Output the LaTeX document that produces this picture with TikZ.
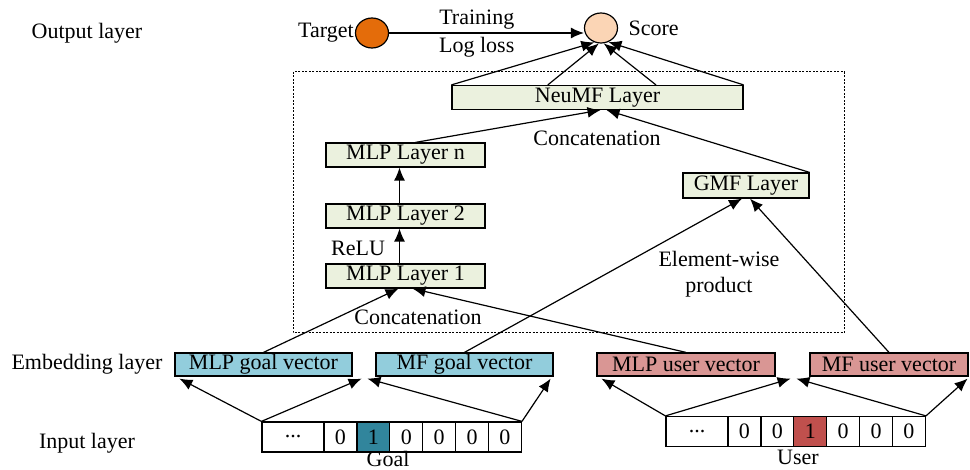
\documentclass[tikz,border=0pt]{standalone}
\usepackage{fontspec}
\setmainfont{Liberation Serif}
\usepackage{xcolor}
\usetikzlibrary{arrows.meta,calc,shapes.geometric}
\definecolor{layergreen}{HTML}{EBF1DE}
\definecolor{goalblue}{HTML}{92CDDC}
\definecolor{userred}{HTML}{D99694}
\definecolor{goalhot}{HTML}{31859C}
\definecolor{userhot}{HTML}{C0504D}
\definecolor{targetorange}{HTML}{E46C0A}
\definecolor{scorepeach}{HTML}{FBD5B5}

\begin{document}
\begin{tikzpicture}[x=1pt,y=-1pt,
  font=\fontsize{22}{26}\selectfont,
  conn/.style={-{Latex[length=13pt,width=11pt]},line width=1.2pt},
  layer/.style={draw,line width=1.2pt,fill=layergreen,inner sep=0pt,minimum height=24pt},
  goalvec/.style={draw,line width=1.2pt,fill=goalblue,inner sep=0pt,minimum height=23pt,minimum width=177pt},
  uservec/.style={draw,line width=1.2pt,fill=userred,inner sep=0pt,minimum height=23pt},
  cell/.style={draw,line width=1.2pt,fill=white,inner sep=0pt,minimum width=32.9pt,minimum height=30pt},
  ball/.style={draw,ellipse,line width=1.2pt,inner sep=0pt,minimum width=33pt,minimum height=30pt}]
\useasboundingbox (0,0) rectangle (970,470);

\draw[line width=1pt,dash pattern=on 2pt off 1.5pt] (293,72) rectangle (844,333);

\node (outlbl) at (87,33) {Output layer};
\node (emblbl) at (87,364) {Embedding layer};
\node (inlbl) at (87,443) {Input layer};

\node[ball,fill=targetorange] (target) at (372,33) {};
\node[ball,fill=scorepeach] (score) at (601,28) {};
\node[anchor=east,inner sep=1pt] (targetlbl) at (target.west) {Target};
\node[anchor=west] (scorelbl) at ($(score.east)+(7,0)$) {Score};
\draw[conn] (target.east) -- node[pos=0.45,above] {Training} node[pos=0.45,below] {Log loss} (target.east -| score.west);

\node[layer,minimum width=291pt] (neumf) at (597.5,97.5) {NeuMF Layer};
\node[layer,minimum width=159pt] (mlpn) at (405.5,155) {MLP Layer n};
\node[layer,minimum width=159pt] (mlp2) at (405.5,216) {MLP Layer 2};
\node[layer,minimum width=159pt] (mlp1) at (405.5,276) {MLP Layer 1};
\node[layer,minimum width=126pt,minimum height=25pt] (gmf) at (746,185.5) {GMF Layer};

\node[goalvec] (mlpgoal) at (263.5,364.5) {MLP goal vector};
\node[goalvec] (mfgoal) at (464.5,364.5) {MF goal vector};
\node[uservec,minimum width=178pt] (mlpuser) at (686,364.5) {MLP user vector};
\node[uservec,minimum width=158pt] (mfuser) at (889,364.5) {MF user vector};

\node[cell,minimum width=62pt] (g0) at (293,437) {...};
\foreach \v/\c [count=\i] in {0/white,1/goalhot,0/white,0/white,0/white,0/white}
  \node[cell,fill=\c] (g\i) at ({307.55+32.9*\i},437) {\v};
\node[cell,minimum width=62pt] (u0) at (697,431.5) {...};
\foreach \v/\c [count=\i] in {0/white,0/white,1/userhot,0/white,0/white,0/white}
  \node[cell,fill=\c] (u\i) at ({711.55+32.9*\i},431.5) {\v};
\node[inner sep=0pt] (goallbl) at (388,459) {Goal};
\node[inner sep=0pt] (userlbl) at (798,457) {User};

\draw[conn] (neumf.north west) -- (score.245);
\draw[conn] ($(neumf.north west)!0.33!(neumf.north east)$) -- (score.262);
\draw[conn] ($(neumf.north west)!0.70!(neumf.north east)$) -- (score.280);
\draw[conn] (neumf.north east) -- (score.298);

\draw[conn] ($(mlpn.north)+(10,0)$) -- ($(neumf.south)+(3,0)$);
\draw[conn] (gmf.north east) -- ($(neumf.south)+(9,0)$);
\node (concat1) at (597,138) {Concatenation};

\draw[conn] ($(mlp1.north)+(-6,0)$) -- ($(mlp2.south)+(-6,0)$);
\draw[conn] ($(mlp2.north)+(-6,0)$) -- ($(mlpn.south)+(-6,0)$);
\node (relu) at (358,248) {ReLU};

\draw[conn] (mlpgoal.north) -- ($(mlp1.south)+(-7,0)$);
\draw[conn] (mlpuser.north) -- ($(mlp1.south)+(7,0)$);
\node (concat2) at (418,317) {Concatenation};
\draw[conn] (mfgoal.north) -- ($(gmf.south)+(-4,0)$);
\draw[conn] (mfuser.north) -- ($(gmf.south)+(4,0)$);
\node[align=center] (elemwise) at (719,274) {Element-wise\\product};

\draw[conn] (g0.north west) -- ($(mlpgoal.south west)+(5,2)$);
\draw[conn] (g0.north west) -- ($(mlpgoal.south east)+(9,2)$);
\draw[conn] (g6.north east) -- ($(mfgoal.south west)+(-8,2)$);
\draw[conn] (g6.north east) -- ($(mfgoal.south east)+(-3,2)$);

\draw[conn] (u0.north west) -- ($(mlpuser.south west)+(5,2)$);
\draw[conn] (u0.north west) -- ($(mlpuser.south east)+(15,2)$);
\draw[conn] (u6.north east) -- ($(mfuser.south west)+(-13,2)$);
\draw[conn] (u6.north east) -- ($(mfuser.south east)+(-1,2)$);
\end{tikzpicture}
\end{document}
